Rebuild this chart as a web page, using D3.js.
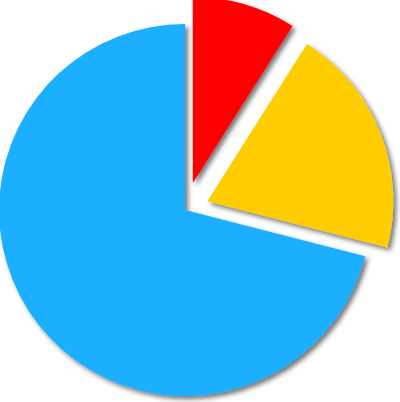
<!DOCTYPE html>
<html>
<head>
<meta charset="utf-8">
<script src="https://cdn.jsdelivr.net/npm/d3@7"></script>
<style>
  body { margin: 0; background: #fff; }
</style>
</head>
<body>
<div id="root"></div>
<script>
const labels = ["A", "B", "C"];
const values = [9, 20, 71];
const colors = ["#ff0000", "#ffcc00", "#1aafff"];
const explode = [28, 24, 0];

const width = 400, height = 402;
const cx = 185, cy = 210, r = 186;

const svg = d3.select("#root").append("svg")
  .attr("width", width).attr("height", height);

const filter = svg.append("defs").append("filter")
  .attr("id", "shadow")
  .attr("x", "-20%").attr("y", "-20%")
  .attr("width", "140%").attr("height", "140%");
filter.append("feDropShadow")
  .attr("dx", 3).attr("dy", 3)
  .attr("stdDeviation", 2.5)
  .attr("flood-color", "#000")
  .attr("flood-opacity", 0.55);

const pie = d3.pie().sort(null).value((d) => d);
const arc = d3.arc().innerRadius(0).outerRadius(r);

const g = svg.append("g").attr("transform", `translate(${cx},${cy})`);

g.selectAll("path")
  .data(pie(values))
  .join("path")
  .attr("d", arc)
  .attr("fill", (d, i) => colors[i])
  .attr("filter", "url(#shadow)")
  .attr("transform", (d, i) => {
    const mid = (d.startAngle + d.endAngle) / 2;
    return `translate(${Math.sin(mid) * explode[i]},${-Math.cos(mid) * explode[i]})`;
  });
</script>
</body>
</html>
